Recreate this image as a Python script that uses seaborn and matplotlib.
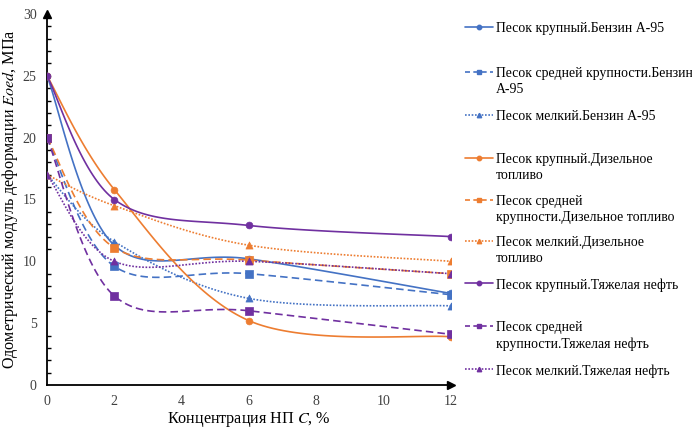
import numpy as np
import pandas as pd
import matplotlib
matplotlib.use("Agg")
import matplotlib.pyplot as plt
from matplotlib.lines import Line2D
import seaborn as sns

# ---------------- data ----------------
conc = [0, 2, 6, 12]
labels = [
    "Песок крупный.Бензин А-95",
    "Песок средней крупности.Бензин\nА-95",
    "Песок мелкий.Бензин А-95",
    "Песок крупный.Дизельное\nтопливо",
    "Песок средней\nкрупности.Дизельное топливо",
    "Песок мелкий.Дизельное\nтопливо",
    "Песок крупный.Тяжелая нефть",
    "Песок средней\nкрупности.Тяжелая нефть",
    "Песок мелкий.Тяжелая нефть",
]
coarse_gasoline = [25, 11.3, 10.2, 7.4]
medium_gasoline = [20, 9.6, 9.0, 7.3]
fine_gasoline = [17, 11.6, 7.0, 6.4]
coarse_diesel = [25, 15.8, 5.2, 3.9]
medium_diesel = [20, 11.1, 10.1, 9.0]
fine_diesel = [17, 14.5, 11.3, 10.0]
coarse_oil = [25, 15.0, 12.9, 12.0]
medium_oil = [20, 7.2, 6.0, 4.1]
fine_oil = [17, 10.0, 10.0, 9.0]
series = [coarse_gasoline, medium_gasoline, fine_gasoline,
          coarse_diesel, medium_diesel, fine_diesel,
          coarse_oil, medium_oil, fine_oil]

# ---------------- styles ----------------
BLUE, ORANGE, PURPLE = "#4472C4", "#ED7D31", "#7030A0"
colors = [BLUE] * 3 + [ORANGE] * 3 + [PURPLE] * 3
markers = ["o", "s", "^"] * 3
lstyles = ["-", "--", ":"] * 3

sns.set_theme(style="white")
plt.rcParams["font.family"] = ["Liberation Serif", "DejaVu Serif"]
plt.rcParams["mathtext.fontset"] = "stix"

fig = plt.figure(figsize=(6.92, 4.30), dpi=100)
W, H = 692, 430
ax = fig.add_axes([47 / W, 1 - 385 / H, (451 - 47) / W, (385 - 14) / H])


def smooth(xs, ys, n=40):
    """Excel-style smoothed line (Catmull-Rom Bezier) through the points."""
    P = np.column_stack([xs, ys]).astype(float)
    ext = np.vstack([P[0], P, P[-1]])
    out = []
    t = np.linspace(0, 1, n)[:, None]
    for i in range(len(P) - 1):
        p0, p1, p2, p3 = ext[i], ext[i + 1], ext[i + 2], ext[i + 3]
        c1 = p1 + (p2 - p0) / 6.0
        c2 = p2 - (p3 - p1) / 6.0
        seg = ((1 - t) ** 3) * p1 + 3 * ((1 - t) ** 2) * t * c1 + 3 * (1 - t) * t ** 2 * c2 + t ** 3 * p2
        out.append(seg if i == 0 else seg[1:])
    s = np.vstack(out)
    return s[:, 0], s[:, 1]


for k, ys in enumerate(series):
    sx, sy = smooth(conc, ys)
    line, = ax.plot(sx, sy, color=colors[k], lw=1.2, zorder=3 + k * 0.1,
                    solid_capstyle="butt", dash_capstyle="butt")
    if lstyles[k] == "--":
        line.set_dashes((4.5, 2.5))
    elif lstyles[k] == ":":
        line.set_dashes((1.0, 1.0))
    df = pd.DataFrame({"x": conc, "y": ys})
    sns.scatterplot(data=df, x="x", y="y", ax=ax, color=colors[k], marker=markers[k],
                    s=26 if markers[k] != "o" else 24, edgecolor=colors[k], linewidth=0.5,
                    zorder=4 + k * 0.1, legend=False)

ax.set_xlim(0, 12)
ax.set_ylim(0, 30)
ax.set_xticks([0, 2, 4, 6, 8, 10, 12])
ax.set_yticks([0, 5, 10, 15, 20, 25, 30])
ax.set_yticks(np.arange(0, 31, 1), minor=True)
for s in ["top", "right"]:
    ax.spines[s].set_visible(False)
for s in ["left", "bottom"]:
    ax.spines[s].set_color("black")
    ax.spines[s].set_linewidth(1.3)
ax.tick_params(axis="both", which="major", direction="inout", length=7, width=1.1,
               color="black", labelsize=10, labelcolor="#404040", pad=4)
ax.tick_params(axis="y", which="minor", direction="in", length=3, width=1.0,
               color="black", left=True)
ax.tick_params(axis="x", which="minor", bottom=False)
ax.set_xlabel("Концентрация НП $C$, %", fontsize=11.6, color="black", labelpad=1)
ax.set_ylabel("Одометрический модуль деформации $Eoed$, МПа", fontsize=11.6,
              color="black", labelpad=2)
ax.grid(False)

# axis arrows
ax.plot(1, 0, marker=">", color="black", markersize=6, transform=ax.transAxes,
        clip_on=False, zorder=10)
ax.plot(0, 1, marker="^", color="black", markersize=6, transform=ax.transAxes,
        clip_on=False, zorder=10)

# ---------------- legend (Excel-like, manual) ----------------
slots = [27, 72, 115, 158, 200, 241, 283, 326, 369]
for k, lab in enumerate(labels):
    yf = 1 - slots[k] / H
    ln = Line2D([465 / W, 493 / W], [yf, yf], transform=fig.transFigure,
                color=colors[k], lw=1.2)
    if lstyles[k] == "--":
        ln.set_dashes((3, 2))
    elif lstyles[k] == ":":
        ln.set_dashes((1, 1))
    fig.add_artist(ln)
    fig.add_artist(Line2D([479 / W], [yf], transform=fig.transFigure, color=colors[k],
                          marker=markers[k], markersize=3.2, linestyle="none"))
    fig.text(496 / W, yf + 5 / H, lab, fontsize=9.9, color="black", va="top",
             ha="left", linespacing=1.3)

fig.savefig("out.png", dpi=100)
